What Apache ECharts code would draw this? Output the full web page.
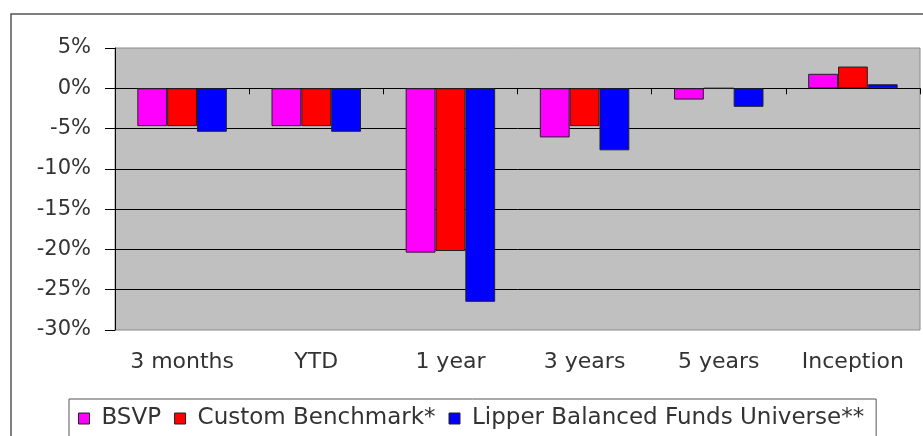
<!DOCTYPE html>
<html>
<head>
<meta charset="utf-8">
<script src="https://cdn.jsdelivr.net/npm/echarts@6/dist/echarts.min.js"></script>
<style>
  html, body { margin: 0; padding: 0; background: #fff; }
  #chart { width: 923px; height: 436px; }
</style>
</head>
<body>
<div id="chart"></div>
<script>
// periods on the category axis
const categories = ['3 months', 'YTD', '1 year', '3 years', '5 years', 'Inception']
// returns in percent
const bsvp = [-4.7, -4.7, -20.4, -6.1, -1.4, 1.8]
const customBenchmark = [-4.7, -4.7, -20.2, -4.7, 0, 2.7]
const lipperBalanced = [-5.4, -5.4, -26.5, -7.7, -2.3, 0.5]
const seriesNames = ['BSVP', 'Custom Benchmark*', 'Lipper Balanced Funds Universe**']

const font = 'DejaVu Sans'
const chart = echarts.init(document.getElementById('chart'))

function barSeries(name, data, color) {
  return {
    name: name,
    type: 'bar',
    data: data,
    barGap: '0%',
    barCategoryGap: '33.3%',
    itemStyle: { color: color, borderColor: '#222', borderWidth: 1 }
  }
}

chart.setOption({
  animation: false,
  backgroundColor: '#fff',
  graphic: [{
    type: 'rect',
    shape: { x: 11, y: 14, width: 1000, height: 1000 },
    style: { fill: 'none', stroke: '#555', lineWidth: 1.5 },
    z: -1
  }],
  grid: {
    left: 115,
    right: 3,
    top: 48,
    bottom: 106,
    show: true,
    backgroundColor: '#c0c0c0',
    borderColor: '#8a8a8a',
    borderWidth: 1
  },
  legend: {
    data: seriesNames,
    left: 69,
    top: 399,
    padding: [8, 12, 8, 9],
    itemWidth: 11,
    itemHeight: 11,
    itemGap: 13,
    backgroundColor: '#fff',
    borderColor: '#555',
    borderWidth: 1,
    borderRadius: 0,
    icon: 'rect',
    itemStyle: { borderColor: '#222', borderWidth: 1 },
    textStyle: { fontFamily: font, fontSize: 23, color: '#333', padding: [0, 0, 0, 7] }
  },
  xAxis: [
    {
      type: 'category',
      data: categories,
      position: 'bottom',
      axisLine: { show: false, onZero: false },
      axisTick: { show: false },
      axisLabel: { interval: 0, fontFamily: font, fontSize: 22, color: '#333', margin: 21 }
    },
    {
      type: 'category',
      data: categories,
      position: 'bottom',
      axisLine: { show: true, onZero: true, lineStyle: { color: '#000', width: 1 } },
      axisTick: { show: true, length: 6, lineStyle: { color: '#000' } },
      axisLabel: { show: false },
      splitLine: { show: false }
    }
  ],
  yAxis: {
    type: 'value',
    min: -30,
    max: 5,
    interval: 5,
    axisLine: { show: true, lineStyle: { color: '#000', width: 1 } },
    axisTick: { show: true, length: 10, lineStyle: { color: '#000' } },
    axisLabel: { fontFamily: font, fontSize: 21, color: '#333', margin: 24, formatter: '{value}%' },
    splitLine: { show: true, showMinLine: false, showMaxLine: false, lineStyle: { color: '#000', width: 1 } }
  },
  series: [
    barSeries(seriesNames[0], bsvp, '#ff00ff'),
    barSeries(seriesNames[1], customBenchmark, '#ff0000'),
    barSeries(seriesNames[2], lipperBalanced, '#0000ff')
  ]
})
</script>
</body>
</html>
